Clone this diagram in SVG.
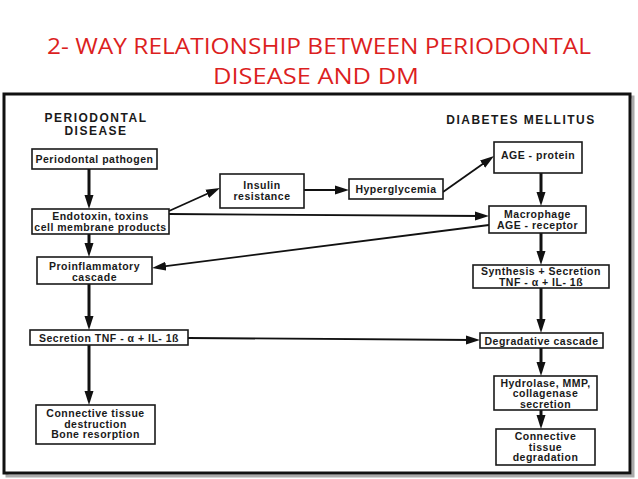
<svg xmlns="http://www.w3.org/2000/svg" width="638" height="479" viewBox="0 0 638 479">
<style>
.title{font-family:"Open Sans","Liberation Sans",sans-serif;font-size:22px;fill:#dc1f1f;text-anchor:middle}
.hdr{font-family:"Liberation Sans",Arial,sans-serif;font-weight:bold;font-size:12px;letter-spacing:1.5px;fill:#1a1a1a;text-anchor:middle}
.box{fill:#fff;stroke:#1a1a1a;stroke-width:1.6}
.t{font-family:"Liberation Sans",Arial,sans-serif;font-weight:bold;font-size:10.5px;letter-spacing:0.5px;fill:#1a1a1a;text-anchor:middle}
.c{stroke:#111;fill:none;marker-end:url(#a)}
.v{stroke-width:3}
.h{stroke-width:1.8}
</style>
<defs>
<marker id="a" markerUnits="userSpaceOnUse" markerWidth="14" markerHeight="10" refX="8" refY="5" orient="auto">
<path d="M0,0.5 L14,5 L0,9.5 z" fill="#111"/>
</marker>
</defs>
<rect width="638" height="479" fill="#fff"/>
<g id="title">
<text class="title" x="319" y="54" textLength="544" lengthAdjust="spacingAndGlyphs">2- WAY RELATIONSHIP BETWEEN PERIODONTAL</text>
<text class="title" x="316" y="84" textLength="206" lengthAdjust="spacingAndGlyphs">DISEASE AND DM</text>
</g>
<g id="frame">
<rect x="7" y="97" width="626" height="379" fill="none" stroke="#aaa" stroke-width="3"/>
<rect x="4" y="94" width="626" height="379" fill="#fff" stroke="#111" stroke-width="3"/>
</g>
<g id="headers">
<text class="hdr" x="96" y="122">PERIODONTAL</text>
<text class="hdr" x="96" y="134.5">DISEASE</text>
<text class="hdr" x="521" y="124">DIABETES MELLITUS</text>
</g>
<g id="connectors">
<path class="c v" d="M89,169 V203"/>
<path class="c v" d="M89,234 V251"/>
<path class="c v" d="M89,284 V324"/>
<path class="c v" d="M89,345 V399"/>
<path class="c h" d="M169,211 L214.5,190.5"/>
<path class="c h" d="M304,190 H343"/>
<path class="c h" d="M443,192 L489.1,159.5"/>
<path class="c v" d="M541,173 V200"/>
<path class="c v" d="M541,233 V259"/>
<path class="c v" d="M541,288 V327"/>
<path class="c v" d="M541,348 V370"/>
<path class="c v" d="M541,410 V423"/>
<path class="c h" d="M169,214 L483,216"/>
<path class="c h" d="M489,225 L158,267.2"/>
<path class="c h" d="M188,338 L474,340"/>
</g>
<g id="n-pathogen">
<rect class="box" x="32" y="149" width="125" height="20"/>
<text class="t" x="94.5" y="162.5">Periodontal pathogen</text>
</g>
<g id="n-endotoxin">
<rect class="box" x="32" y="209" width="137" height="25"/>
<text class="t" x="100.5" y="220">Endotoxin, toxins</text>
<text class="t" x="100.5" y="230.5">cell membrane products</text>
</g>
<g id="n-proinflammatory">
<rect class="box" x="37" y="257" width="115" height="27"/>
<text class="t" x="94.5" y="270">Proinflammatory</text>
<text class="t" x="94.5" y="281">cascade</text>
</g>
<g id="n-secretion">
<rect class="box" x="30" y="330" width="158" height="15"/>
<text class="t" x="109" y="341.5">Secretion TNF - α + IL- 1ß</text>
</g>
<g id="n-destruction">
<rect class="box" x="36" y="405" width="119" height="39"/>
<text class="t" x="95.5" y="417">Connective tissue</text>
<text class="t" x="95.5" y="427.5">destruction</text>
<text class="t" x="95.5" y="438">Bone resorption</text>
</g>
<g id="n-insulin">
<rect class="box" x="220" y="174" width="84" height="34"/>
<text class="t" x="262" y="189">Insulin</text>
<text class="t" x="262" y="200">resistance</text>
</g>
<g id="n-hyperglycemia">
<rect class="box" x="349" y="179" width="94" height="20"/>
<text class="t" x="396" y="192.5">Hyperglycemia</text>
</g>
<g id="n-age-protein">
<rect class="box" x="494" y="142" width="88" height="31"/>
<text class="t" x="538" y="159">AGE - protein</text>
</g>
<g id="n-macrophage">
<rect class="box" x="489" y="206" width="97" height="27"/>
<text class="t" x="537.5" y="217.5">Macrophage</text>
<text class="t" x="537.5" y="228.5">AGE - receptor</text>
</g>
<g id="n-synthesis">
<rect class="box" x="473" y="265" width="136" height="23"/>
<text class="t" x="541" y="275">Synthesis + Secretion</text>
<text class="t" x="541" y="285.5">TNF - α + IL- 1ß</text>
</g>
<g id="n-degradative">
<rect class="box" x="480" y="333" width="123" height="15"/>
<text class="t" x="541.5" y="344.5">Degradative cascade</text>
</g>
<g id="n-hydrolase">
<rect class="box" x="494" y="376" width="103" height="34"/>
<text class="t" x="545.5" y="386.5">Hydrolase, MMP,</text>
<text class="t" x="545.5" y="397">collagenase</text>
<text class="t" x="545.5" y="407.5">secretion</text>
</g>
<g id="n-degradation">
<rect class="box" x="496" y="429" width="99" height="36"/>
<text class="t" x="545.5" y="440">Connective</text>
<text class="t" x="545.5" y="450.5">tissue</text>
<text class="t" x="545.5" y="461">degradation</text>
</g>
</svg>
